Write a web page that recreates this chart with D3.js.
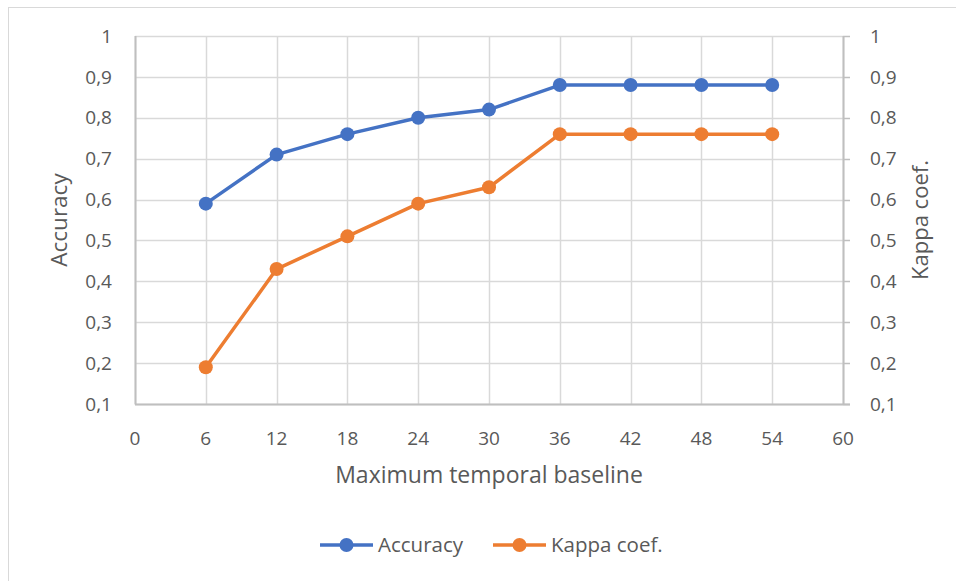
<!DOCTYPE html>
<meta charset="utf-8">
<script src="https://d3js.org/d3.v7.js"></script>
<style>
  body { margin: 0; background: #fff; }
  text { font-family: "Open Sans", sans-serif; fill: #595959; }
</style>
<div id="chart"></div>
<script>
// data
var baselines = [6, 12, 18, 24, 30, 36, 42, 48, 54]
var accuracy = [0.59, 0.71, 0.76, 0.80, 0.82, 0.88, 0.88, 0.88, 0.88]
var kappa = [0.19, 0.43, 0.51, 0.59, 0.63, 0.76, 0.76, 0.76, 0.76]
var xTicks = [0, 6, 12, 18, 24, 30, 36, 42, 48, 54, 60]
var yTicks = [0.1, 0.2, 0.3, 0.4, 0.5, 0.6, 0.7, 0.8, 0.9, 1]
var seriesNames = ["Accuracy", "Kappa coef."]
var colors = ["#4472C4", "#ED7D31"]

const W = 956, H = 581
const margin = {top: 36, right: 113, bottom: 177, left: 135},
  width = W - margin.left - margin.right,
  height = H - margin.top - margin.bottom

const root = d3.select("#chart").append("svg")
  .attr("width", W).attr("height", H)

// chart border
root.append("rect")
  .attr("x", 8.5).attr("y", 7.5)
  .attr("width", 960).attr("height", 600)
  .attr("fill", "none").attr("stroke", "#d9d9d9")

const svg = root.append("g")
  .attr("transform", `translate(${margin.left},${margin.top})`)

const x = d3.scaleLinear().domain([0, 60]).range([0, width])
const y = d3.scaleLinear().domain([0.1, 1]).range([height, 0])

const fmt = d => d === 1 ? "1" : d3.format(".1f")(d).replace(".", ",")

// gridlines
svg.selectAll(".hgrid").data(yTicks).join("line")
  .attr("x1", 0).attr("x2", width)
  .attr("y1", d => Math.round(y(d)) + 0.5).attr("y2", d => Math.round(y(d)) + 0.5)
  .attr("stroke", "#d9d9d9").attr("stroke-width", 1.5)
svg.selectAll(".vgrid").data(xTicks).join("line")
  .attr("x1", d => Math.round(x(d)) + 0.5).attr("x2", d => Math.round(x(d)) + 0.5)
  .attr("y1", 0).attr("y2", height)
  .attr("stroke", "#d9d9d9").attr("stroke-width", 1.5)

// axis lines
svg.append("line").attr("x1", 0.5).attr("x2", 0.5).attr("y1", 0).attr("y2", height + 0.5)
  .attr("stroke", "#bfbfbf").attr("stroke-width", 2)
svg.append("line").attr("x1", width + 0.5).attr("x2", width + 0.5).attr("y1", 0).attr("y2", height + 0.5)
  .attr("stroke", "#bfbfbf").attr("stroke-width", 2)
svg.append("line").attr("x1", 0).attr("x2", width + 7).attr("y1", height + 0.5).attr("y2", height + 0.5)
  .attr("stroke", "#bfbfbf").attr("stroke-width", 2)
// right axis ticks
svg.selectAll(".rtick").data(yTicks).join("line")
  .attr("x1", width).attr("x2", width + 7)
  .attr("y1", d => Math.round(y(d)) + 0.5).attr("y2", d => Math.round(y(d)) + 0.5)
  .attr("stroke", "#bfbfbf").attr("stroke-width", 1.5)

// tick labels
svg.selectAll(".ylab").data(yTicks).join("text")
  .attr("x", -23).attr("y", d => y(d)).attr("dy", "0.35em")
  .attr("text-anchor", "end").style("font-size", "19px").text(fmt)
svg.selectAll(".ylabr").data(yTicks).join("text")
  .attr("x", width + 27).attr("y", d => y(d)).attr("dy", "0.35em")
  .attr("text-anchor", "start").style("font-size", "19px").text(fmt)
svg.selectAll(".xlab").data(xTicks).join("text")
  .attr("x", d => x(d)).attr("y", height + 41)
  .attr("text-anchor", "middle").style("font-size", "19px").text(d => d)

// axis titles
svg.append("text").attr("x", width / 2).attr("y", height + 79)
  .attr("text-anchor", "middle").style("font-size", "23px").text("Maximum temporal baseline")
svg.append("text").attr("transform", `translate(${-68},${height / 2}) rotate(-90)`)
  .attr("text-anchor", "middle").style("font-size", "22.5px").text("Accuracy")
svg.append("text").attr("transform", `translate(${width + 85},${height / 2}) rotate(-90)`)
  .attr("text-anchor", "middle").style("font-size", "22px").text("Kappa coef.")

// series
const series = [accuracy, kappa]
const line = d3.line().x((d, i) => x(baselines[i])).y(d => y(d))
series.forEach(function(vals, k) {
  svg.append("path").datum(vals)
    .attr("d", line).attr("fill", "none")
    .attr("stroke", colors[k]).attr("stroke-width", 3.5).attr("stroke-linejoin", "round")
  svg.selectAll(".pt" + k).data(vals).join("circle")
    .attr("cx", (d, i) => x(baselines[i])).attr("cy", d => y(d))
    .attr("r", 7).attr("fill", colors[k])
})

// legend
const legendX = [320, 493]
seriesNames.forEach(function(name, k) {
  const g = root.append("g").attr("transform", `translate(${legendX[k]},545)`)
  g.append("line").attr("x1", 0).attr("x2", 53).attr("y1", 0).attr("y2", 0)
    .attr("stroke", colors[k]).attr("stroke-width", 3.5)
  g.append("circle").attr("cx", 26.5).attr("cy", 0).attr("r", 7).attr("fill", colors[k])
  g.append("text").attr("x", 58).attr("y", 0).attr("dy", "0.35em")
    .style("font-size", "20.5px").text(name)
})
</script>
